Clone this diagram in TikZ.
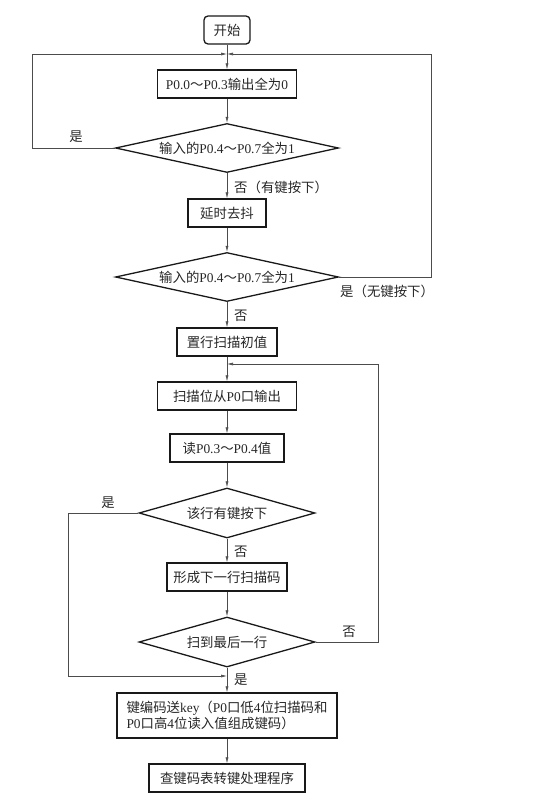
\documentclass[tikz,border=0pt]{standalone}
\usepackage{fontspec}
\setmainfont{Liberation Serif}
\newfontfamily\cjk{Noto Sans CJK SC}
\newcommand\zh[1]{{\cjk #1}}
\usetikzlibrary{shapes.geometric,arrows.meta}
\begin{document}
\begin{tikzpicture}[x=1pt,y=-1pt,
  every node/.style={font=\fontsize{13.4}{16}\selectfont, text=black!85},
  box/.style={draw=black!90, line width=1.3pt, minimum height=28pt, inner sep=2pt},
  startbox/.style={box, rounded corners=4pt},
  dia/.style={diamond, draw=black!90, line width=1.3pt, aspect=4.5, inner sep=0pt, minimum width=223pt, minimum height=49pt},
  conn/.style={draw=black!70, line width=0.6pt},
  arr/.style={conn, -{Latex[length=6pt,width=3pt]}},
  lbl/.style={inner sep=1pt}
]
\path[use as bounding box] (0,0) rectangle (556,801);

\node[startbox, minimum width=46pt] (start) at (227,30) {\zh{开始}};
\node[box, minimum width=139pt] (b1) at (227,84) {P0.0\zh{～}P0.3\zh{输出全为}0};
\node[dia] (d1) at (227,148) {\zh{输入的}P0.4\zh{～}P0.7\zh{全为}1};
\node[box, minimum width=78pt] (b2) at (227,213) {\zh{延时去抖}};
\node[dia] (d2) at (227,277) {\zh{输入的}P0.4\zh{～}P0.7\zh{全为}1};
\node[box, minimum width=100pt] (b3) at (227,342) {\zh{置行扫描初值}};
\node[box, minimum width=139pt] (b4) at (227,396) {\zh{扫描位从}P0\zh{口输出}};
\node[box, minimum width=114pt] (b5) at (227,448) {\zh{读}P0.3\zh{～}P0.4\zh{值}};
\node[dia, minimum width=176pt, minimum height=50pt] (d3) at (227,513) {\zh{该行有键按下}};
\node[box, minimum width=120pt] (b6) at (227,577) {\zh{形成下一行扫描码}};
\node[dia, minimum width=176pt, minimum height=50pt] (d4) at (227,642) {\zh{扫到最后一行}};
\node[box, minimum width=220pt, minimum height=45pt, align=left] (b7) at (227,715.5)
  {\zh{键编码送}key\zh{（}P0\zh{口低}4\zh{位扫描码和}\\P0\zh{口高}4\zh{位读入值组成键码）}};
\node[box, minimum width=156pt] (b8) at (227,778) {\zh{查键码表转键处理程序}};

% junction coordinates
\coordinate (j1) at (227,54);
\coordinate (j2) at (227,364);
\coordinate (j3) at (227,676);

% main flow
\draw[arr] (start) -- (b1);
\draw[arr] (b1) -- (d1);
\draw[arr] (d1) -- (b2);
\draw[arr] (b2) -- (d2);
\draw[arr] (d2) -- (b3);
\draw[arr] (b3) -- (b4);
\draw[arr] (b4) -- (b5);
\draw[arr] (b5) -- (d3);
\draw[arr] (d3) -- (b6);
\draw[arr] (b6) -- (d4);
\draw[arr] (d4) -- (b7);
\draw[arr] (b7) -- (b8);

% loops
\draw[arr] (d1.west) -| (32,54) -- (j1);
\draw[arr] (d2.east) -| (431,54) -- (j1);
\draw[arr] (d4.east) -| (378,364) -- (j2);
\draw[arr] (d3.west) -| (68,676) -- (j3);

% labels
\node[lbl] (l1) at (76,137) {\zh{是}};
\node[lbl, anchor=west] (l2) at (233,187) {\zh{否（有键按下）}};
\node[lbl, anchor=west] (l3) at (339,291) {\zh{是（无键按下）}};
\node[lbl, anchor=west] (l4) at (233,316) {\zh{否}};
\node[lbl] (l5) at (108,503) {\zh{是}};
\node[lbl, anchor=west] (l6) at (233,552) {\zh{否}};
\node[lbl] (l7) at (349,632) {\zh{否}};
\node[lbl, anchor=west] (l8) at (233,680) {\zh{是}};
\end{tikzpicture}
\end{document}
